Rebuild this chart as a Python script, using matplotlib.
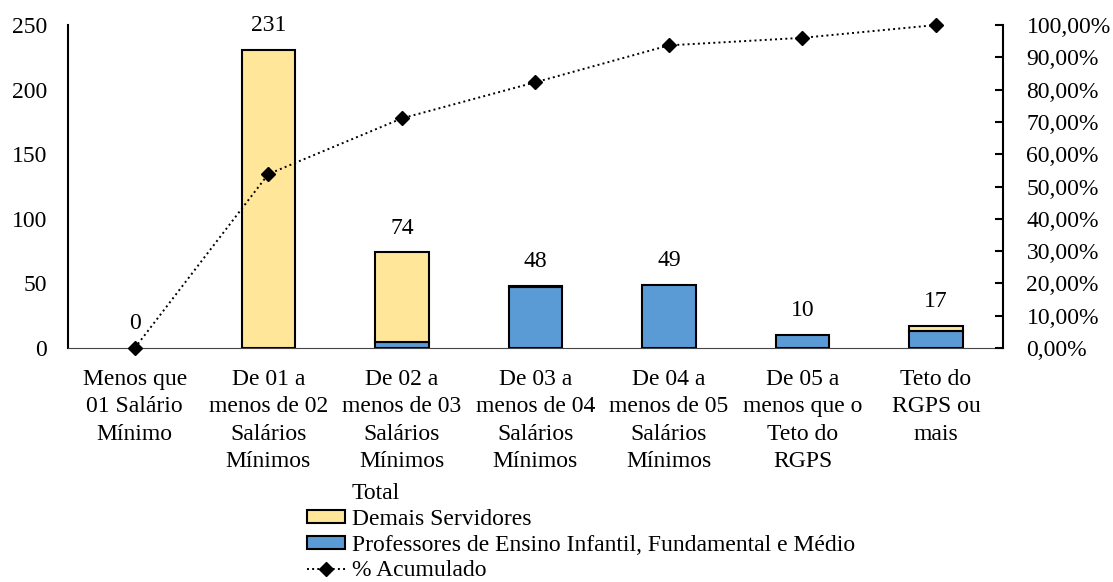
import matplotlib.pyplot as plt
from matplotlib.patches import Patch
from matplotlib.lines import Line2D
from matplotlib.ticker import FuncFormatter

plt.rcParams['font.family'] = 'Liberation Serif'
plt.rcParams['font.size'] = 17

# dados
faixas = ['Menos que\n01 Salário\nMínimo', 'De 01 a\nmenos de 02\nSalários\nMínimos',
          'De 02 a\nmenos de 03\nSalários\nMínimos', 'De 03 a\nmenos de 04\nSalários\nMínimos',
          'De 04 a\nmenos de 05\nSalários\nMínimos', 'De 05 a\nmenos que o\nTeto do\nRGPS',
          'Teto do\nRGPS ou\nmais']
professores = [0, 0, 5, 47, 49, 10, 13]
demais = [0, 231, 69, 1, 0, 0, 4]
total = [p + d for p, d in zip(professores, demais)]
acumulado = [0.0, 53.85, 71.10, 82.28, 93.71, 96.04, 100.0]

amarelo = '#FFE699'
azul = '#5B9BD5'

fig = plt.figure(figsize=(11.13, 5.82), dpi=100)
ax = fig.add_axes([0.0611, 0.402, 0.8399, 0.555])
x = list(range(len(faixas)))

# barras empilhadas (pula os zeros para não desenhar borda no eixo)
for i in x:
    if professores[i] > 0:
        ax.bar(i, professores[i], width=0.4, color=azul, edgecolor='black', linewidth=1.5)
    if demais[i] > 0:
        ax.bar(i, demais[i], width=0.4, bottom=professores[i], color=amarelo,
               edgecolor='black', linewidth=1.5)
for i, t in enumerate(total):
    ax.annotate(str(t), (i, t), xytext=(0, 10), textcoords='offset points',
                ha='center', va='bottom', fontsize=17)

ax.set_xlim(-0.5, len(faixas) - 0.5)
ax.set_ylim(0, 250)
ax.set_yticks(range(0, 251, 50))
ax.set_xticks(x)
ax.set_xticklabels(faixas, linespacing=1.4)
ax.tick_params(axis='y', length=0, pad=15)
ax.tick_params(axis='x', length=0, pad=15)
ax.spines['top'].set_visible(False)
ax.spines['right'].set_visible(False)
ax.spines['bottom'].set_color('#444444')
ax.spines['left'].set_linewidth(1.5)

ax2 = ax.twinx()
ax2.plot(x, acumulado, color='black', linestyle=':', linewidth=1.4,
         marker='D', markersize=7, clip_on=False, zorder=5)
ax2.set_ylim(0, 100)
ax2.set_yticks(range(0, 101, 10))
ax2.yaxis.set_major_formatter(FuncFormatter(lambda v, p: f'{v:.2f}%'.replace('.', ',')))
ax2.tick_params(axis='y', direction='in', length=6, width=1.5, pad=17)
for s in ['top', 'left', 'bottom']:
    ax2.spines[s].set_visible(False)
ax2.spines['right'].set_linewidth(1.5)

handles = [Patch(facecolor='none', edgecolor='none'),
           Patch(facecolor=amarelo, edgecolor='black', linewidth=1.5),
           Patch(facecolor=azul, edgecolor='black', linewidth=1.5),
           Line2D([], [], color='black', linestyle=':', linewidth=1.4, marker='D', markersize=7)]
labels = ['Total', 'Demais Servidores',
          'Professores de Ensino Infantil, Fundamental e Médio', '% Acumulado']
fig.legend(handles, labels, loc='upper left', bbox_to_anchor=(0.265, 0.19),
           frameon=False, fontsize=17, handlelength=1.6, handleheight=0.45,
           handletextpad=0.3, labelspacing=0.2, borderpad=0)

fig.savefig('out.png', dpi=100)
